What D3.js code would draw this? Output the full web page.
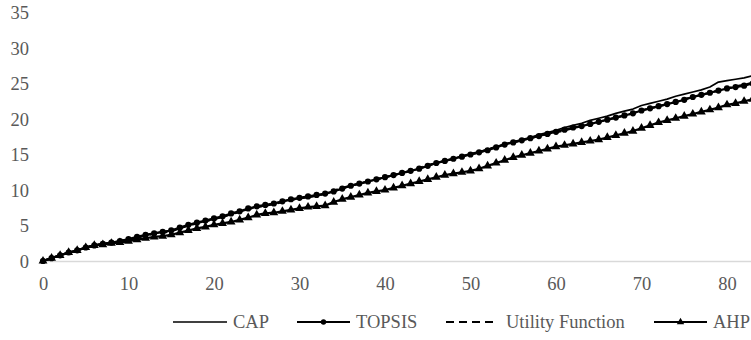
<!DOCTYPE html>
<html><head><meta charset="utf-8">
<script src="https://cdn.jsdelivr.net/npm/d3@7"></script>
<style>
html,body{margin:0;padding:0;background:#fff;}
svg{display:block;}
svg text{font-family:'Liberation Serif','Times New Roman','DejaVu Serif',serif !important;}
</style></head>
<body><svg id="chart" width="751" height="340"></svg>
<script>
const xTicks = [0,10,20,30,40,50,60,70,80];
const yTicks = [0,5,10,15,20,25,30,35];
const seriesNames = ["CAP","TOPSIS","Utility Function","AHP"];
const xValues = d3.range(0,85);
const cap = [0,0.4,0.8,1.1,1.5,1.9,2.2,2.4,2.6,2.8,
  3.0,3.3,3.6,3.9,4.1,4.3,4.6,5.0,5.3,5.6,
  5.9,6.2,6.6,6.9,7.3,7.6,7.8,8.1,8.4,8.6,
  8.8,9.0,9.2,9.4,9.8,10.2,10.6,10.9,11.2,11.5,
  11.8,12.1,12.4,12.7,13.0,13.4,13.8,14.1,14.4,14.8,
  15.1,15.4,15.7,16.1,16.5,16.8,17.1,17.4,17.8,18.1,
  18.4,18.8,19.1,19.4,19.8,20.1,20.4,20.8,21.1,21.4,
  21.9,22.2,22.5,22.8,23.2,23.5,23.8,24.1,24.5,25.2,
  25.4,25.6,25.8,26.1,26.3];
const topsis = [0,0.4,0.8,1.2,1.5,1.9,2.2,2.4,2.6,2.8,
  3.1,3.4,3.7,3.9,4.1,4.3,4.7,5.1,5.4,5.7,
  6.0,6.3,6.7,7.0,7.4,7.7,7.9,8.1,8.4,8.7,
  8.9,9.1,9.3,9.5,9.8,10.2,10.6,10.9,11.2,11.5,
  11.8,12.1,12.4,12.7,13.0,13.4,13.8,14.1,14.4,14.7,
  15.0,15.3,15.6,16.0,16.4,16.7,17.0,17.3,17.6,17.9,
  18.2,18.5,18.8,19.0,19.3,19.6,19.9,20.2,20.5,20.8,
  21.2,21.5,21.8,22.1,22.4,22.7,23.1,23.4,23.7,24.0,
  24.3,24.5,24.7,25.0,25.3];
const utility = [0,0.4,0.8,1.2,1.5,1.9,2.2,2.4,2.6,2.8,
  3.0,3.3,3.6,3.8,4.0,4.2,4.6,5.0,5.3,5.6,
  5.9,6.2,6.6,6.9,7.3,7.6,7.8,8.0,8.3,8.6,
  8.8,9.0,9.2,9.5,9.9,10.3,10.6,10.9,11.2,11.5,
  11.8,12.1,12.4,12.7,13.1,13.5,13.8,14.1,14.4,14.7,
  15.0,15.3,15.7,16.1,16.4,16.7,17.0,17.3,17.6,17.9,
  18.1,18.4,18.7,19.0,19.3,19.6,19.9,20.2,20.5,20.8,
  21.2,21.5,21.8,22.1,22.4,22.8,23.1,23.4,23.7,24.0,
  24.3,24.6,24.8,25.1,25.4];
const ahp = [0,0.4,0.8,1.2,1.5,1.9,2.2,2.3,2.5,2.6,
  2.8,3.0,3.2,3.4,3.5,3.7,4.0,4.3,4.6,4.8,
  5.1,5.3,5.5,5.8,6.1,6.5,6.7,6.8,7.0,7.2,
  7.4,7.6,7.7,7.8,8.3,8.7,9.0,9.3,9.6,9.8,
  10.0,10.3,10.6,10.9,11.2,11.5,11.8,12.1,12.3,12.5,
  12.7,13.0,13.4,13.8,14.2,14.6,14.9,15.2,15.5,15.8,
  16.1,16.3,16.5,16.7,16.9,17.1,17.4,17.7,18.0,18.3,
  18.7,19.1,19.5,19.8,20.1,20.4,20.7,21.0,21.3,21.6,
  22.0,22.2,22.5,22.8,23.0];

const svg = d3.select("#chart");
const textColor = "#595959";
const fontSize = "18.5px";
const fontStyle = "font-family:'Liberation Serif','Times New Roman','DejaVu Serif',serif;";

const x = d3.scaleLinear().domain([0,84]).range([43, 43 + 84*8.55]);
const y = d3.scaleLinear().domain([0,35]).range([261, 12.5]);

// x axis
const xAxis = svg.append("g").attr("transform","translate(0,"+y(0)+")")
  .call(d3.axisBottom(x).tickValues(xTicks).tickSize(0).tickPadding(14).tickFormat(d3.format("d")));
xAxis.attr("font-family",null);
xAxis.select(".domain").attr("stroke","#d9d9d9").attr("stroke-width",1.3);
xAxis.selectAll("text").attr("font-size",fontSize).attr("fill",textColor)
  .attr("style",fontStyle).attr("dy","0.35em").attr("y",23);

// y axis
const yAxis = svg.append("g").attr("transform","translate(43,0)")
  .call(d3.axisLeft(y).tickValues(yTicks).tickSize(0).tickPadding(14).tickFormat(d3.format("d")));
yAxis.attr("font-family",null);
yAxis.select(".domain").remove();
yAxis.selectAll("text").attr("font-size",fontSize).attr("fill",textColor)
  .attr("style",fontStyle).attr("dy","0.35em");

const mk = arr => xValues.map((xv,i)=>({x:xv,y:arr[i]}));
const line = d3.line().x(d=>x(d.x)).y(d=>y(d.y));

const series = [
  {name:seriesNames[0], data:mk(cap), width:1.7, dash:null, marker:null},
  {name:seriesNames[2], data:mk(utility), width:2.2, dash:"7,4", marker:null},
  {name:seriesNames[3], data:mk(ahp), width:2.2, dash:null, marker:"tri"},
  {name:seriesNames[1], data:mk(topsis), width:2.2, dash:null, marker:"circle"}
];

const plot = svg.append("g");
series.forEach(s=>{
  plot.append("path").datum(s.data).attr("d",line).attr("fill","none")
    .attr("stroke","#000").attr("stroke-width",s.width)
    .attr("stroke-dasharray",s.dash).attr("stroke-linejoin","round");
  if(s.marker==="circle"){
    plot.selectAll(null).data(s.data).enter().append("circle")
      .attr("cx",d=>x(d.x)).attr("cy",d=>y(d.y)).attr("r",3.1).attr("fill","#000");
  } else if(s.marker==="tri"){
    plot.selectAll(null).data(s.data).enter().append("path")
      .attr("d",d3.symbol().type(d3.symbolTriangle).size(34))
      .attr("transform",d=>"translate("+x(d.x)+","+y(d.y)+")").attr("fill","#000");
  }
});

// legend
const legendY = 322;
const legendItems = [
  {name:seriesNames[0], x0:173, x1:227, tx:233, dash:null, marker:null, w:1.7},
  {name:seriesNames[1], x0:297, x1:350, tx:356, dash:null, marker:"circle", w:2.2},
  {name:seriesNames[2], x0:446, x1:496, tx:506, dash:"8,5", marker:null, w:2.2},
  {name:seriesNames[3], x0:654, x1:707, tx:713, dash:null, marker:"tri", w:2.2}
];
const lg = svg.append("g");
legendItems.forEach(it=>{
  lg.append("line").attr("x1",it.x0).attr("x2",it.x1).attr("y1",legendY).attr("y2",legendY)
    .attr("stroke","#000").attr("stroke-width",it.w).attr("stroke-dasharray",it.dash);
  const mx = (it.x0+it.x1)/2;
  if(it.marker==="circle"){
    lg.append("circle").attr("cx",mx).attr("cy",legendY).attr("r",2.7).attr("fill","#000");
  } else if(it.marker==="tri"){
    lg.append("path").attr("d",d3.symbol().type(d3.symbolTriangle).size(24))
      .attr("transform","translate("+mx+","+legendY+")").attr("fill","#000");
  }
  lg.append("text").attr("x",it.tx).attr("y",legendY).attr("dy","0.35em")
    .attr("font-size",fontSize).attr("fill",textColor).attr("style",fontStyle).text(it.name);
});
</script></body></html>
